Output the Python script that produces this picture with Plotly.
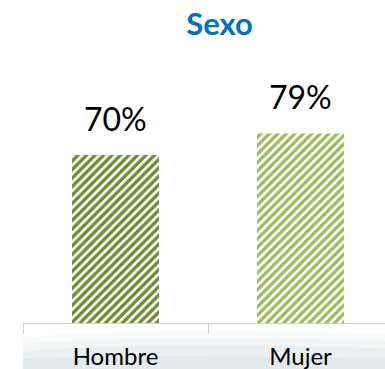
import plotly.graph_objects as go

# Data
categorias = ["Hombre", "Mujer"]
porcentajes = [70, 79]
etiquetas = ["70%", "79%"]
colores = ["#6E8B30", "#9BBB59"]

W, H = 385, 369
fig = go.Figure()

fig.add_trace(go.Bar(
    x=categorias,
    y=porcentajes,
    width=0.47,
    marker=dict(
        color=colores,
        line=dict(width=0),
        pattern=dict(shape="/", fgcolor=colores, bgcolor="white", fgopacity=1,
                     size=6, solidity=0.55, fillmode="replace"),
    ),
    hoverinfo="skip",
))

# value labels above each bar
for c, v, t in zip(categorias, porcentajes, etiquetas):
    fig.add_annotation(x=c, y=v, text=t, showarrow=False, yanchor="middle",
                       yshift=37, font=dict(family="Lato", size=32, color="#000000"))

# soft grey haze along the bottom
haze = [
    ("M 0 -0.06 C 0.25 -0.03, 0.5 -0.02, 1.1 -0.05 L 1.1 -0.2 L 0 -0.2 Z", "rgba(220,226,229,0.18)"),
    ("M 0 -0.09 C 0.25 -0.06, 0.5 -0.05, 1.1 -0.08 L 1.1 -0.2 L 0 -0.2 Z", "rgba(218,224,228,0.18)"),
    ("M 0 -0.12 C 0.2 -0.09, 0.5 -0.08, 1.1 -0.11 L 1.1 -0.2 L 0 -0.2 Z", "rgba(212,220,224,0.22)"),
    ("M 0 -0.15 C 0.3 -0.13, 0.6 -0.14, 1.1 -0.15 L 1.1 -0.2 L 0 -0.2 Z", "rgba(205,214,218,0.25)"),
]
for path, col in haze:
    fig.add_shape(type="path", path=path, xref="paper", yref="paper",
                  fillcolor=col, line=dict(width=0), layer="below")

fig.update_layout(
    width=W, height=H,
    margin=dict(l=23, r=0, t=83, b=46),
    paper_bgcolor="white", plot_bgcolor="rgba(0,0,0,0)",
    showlegend=False,
    title=dict(text="<b>Sexo</b>", x=219.5 / W, xanchor="center",
               y=1 - 24 / H, yanchor="middle",
               font=dict(family="Lato", size=31, color="#0070C0")),
    xaxis=dict(
        type="category",
        range=[-0.5, 1.5 - 8 / 185],
        showline=True, linecolor="#D0D0D0", linewidth=1,
        ticks="outside", ticklen=10, tickcolor="#D0D0D0", tickwidth=1,
        tickson="boundaries",
        ticklabelstandoff=12,
        tickfont=dict(family="Lato", size=24, color="#000000"),
        showgrid=False, zeroline=False,
    ),
    yaxis=dict(range=[0, 100], visible=False, showgrid=False, zeroline=False),
)

fig.write_html("out.html")
